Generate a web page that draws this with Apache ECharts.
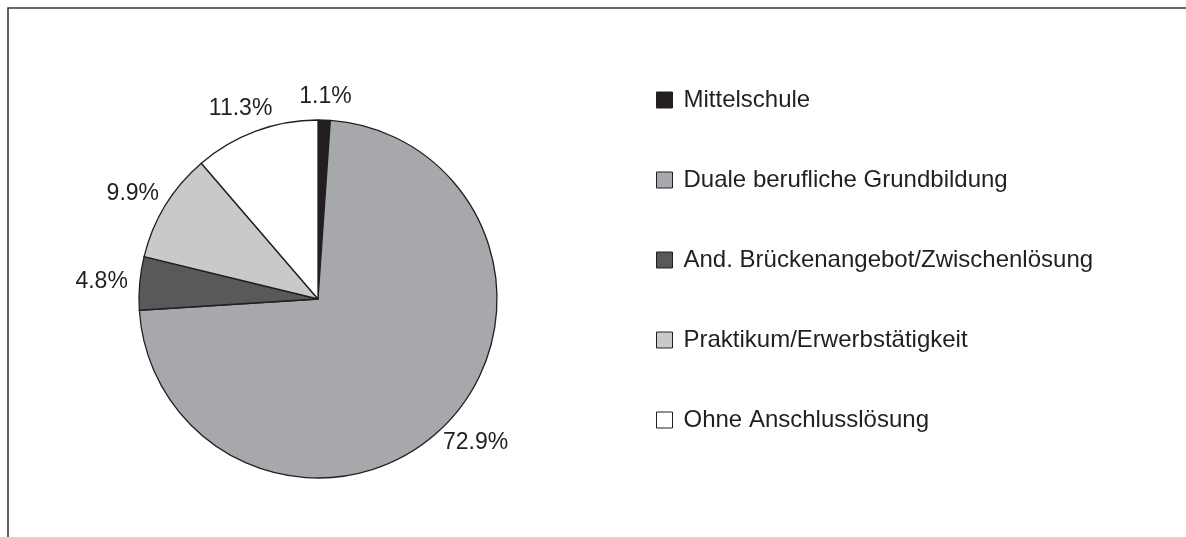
<!DOCTYPE html>
<html style="height: 100%">
<head>
    <meta charset="utf-8">
</head>
<body style="height: 100%; margin: 0; background: #fff">
<div id="container" style="height: 100%"></div>
<script type="text/javascript" src="https://cdn.jsdelivr.net/npm/echarts@6/dist/echarts.min.js"></script>
<script type="text/javascript">
var dom = document.getElementById("container");
var myChart = echarts.init(dom);

// Anteile in Prozent
var categories = ['Mittelschule', 'Duale berufliche Grundbildung', 'And. Brückenangebot/Zwischenlösung', 'Praktikum/Erwerbstätigkeit', 'Ohne Anschlusslösung'];
var values = [1.1, 72.9, 4.8, 9.9, 11.3];
var colors = ['#231f20', '#a6a8ab', '#58595b', '#c8c9cb', '#ffffff'];

var textColor = '#231f20';
var pieCenter = [318, 299];
var pieRadius = 179;
var labelGap = 12;

var pieData = [];
for (var i = 0; i < categories.length; i++) {
    pieData.push({
        name: categories[i],
        value: values[i],
        itemStyle: { color: colors[i] }
    });
}

// Beschriftung ausserhalb, Box beruehrt den Radius wie in Excel
function placeLabel(params) {
    var total = 0, before = 0;
    for (var k = 0; k < values.length; k++) {
        total += values[k];
        if (k < params.dataIndex) before += values[k];
    }
    var mid = (before + values[params.dataIndex] / 2) / total * 2 * Math.PI;
    var ux = Math.sin(mid), uy = -Math.cos(mid);
    var w = params.labelRect.width, h = params.labelRect.height;
    var r = pieRadius + labelGap;
    return {
        x: pieCenter[0] + ux * r + ux * w / 2,
        y: pieCenter[1] + uy * r + uy * h / 2,
        align: 'center',
        verticalAlign: 'middle'
    };
}

option = {
    backgroundColor: '#fff',
    animation: false,
    graphic: [
        {
            type: 'polyline',
            silent: true,
            shape: { points: [[8, 537], [8, 8], [1186, 8]] },
            style: { stroke: '#3a3a3a', lineWidth: 1.6, fill: null }
        }
    ],
    legend: {
        orient: 'vertical',
        left: 656,
        top: 88,
        padding: 0,
        icon: 'rect',
        itemWidth: 16,
        itemHeight: 16,
        itemGap: 56,
        selectedMode: false,
        itemStyle: { borderColor: textColor, borderWidth: 1 },
        textStyle: {
            color: textColor,
            fontFamily: 'Liberation Sans, Arial, sans-serif',
            fontSize: 24,
            lineHeight: 24,
            padding: [0, 0, 0, 6]
        },
        data: categories
    },
    series: [
        {
            type: 'pie',
            center: pieCenter,
            radius: pieRadius,
            startAngle: 90,
            clockwise: true,
            avoidLabelOverlap: false,
            silent: true,
            emphasis: { disabled: true },
            itemStyle: {
                borderColor: textColor,
                borderWidth: 1.3
            },
            label: {
                show: true,
                position: 'outside',
                distanceToLabelLine: 0,
                formatter: function (p) { return p.value.toFixed(1) + '%'; },
                color: textColor,
                fontFamily: 'Liberation Sans, Arial, sans-serif',
                fontSize: 23
            },
            labelLine: { show: false, length: 20, length2: 0 },
            labelLayout: placeLabel,
            data: pieData
        }
    ]
};

myChart.setOption(option);
</script>
</body>
</html>
